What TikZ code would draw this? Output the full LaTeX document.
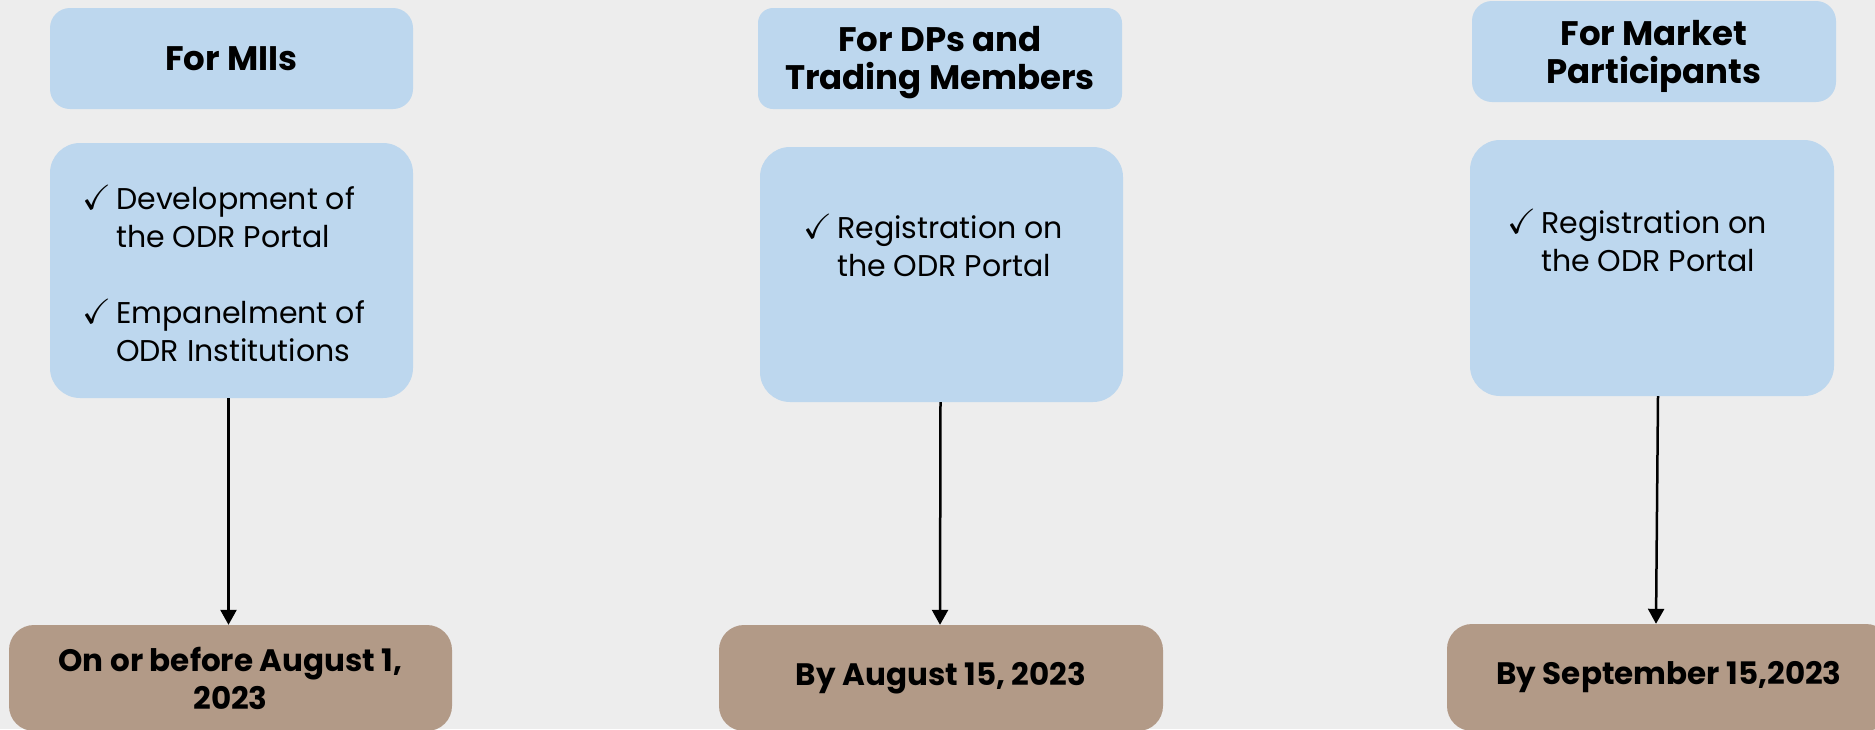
\documentclass[tikz,border=0pt]{standalone}
\usepackage{amssymb}
\usepackage{fontspec}
\setmainfont{Poppins}
\usetikzlibrary{positioning, arrows.meta}
\definecolor{oblue}{RGB}{189,215,238}
\definecolor{obrown}{RGB}{178,154,135}
\definecolor{ogrey}{RGB}{237,237,237}
\newcommand{\odrtick}{\makebox[34pt][l]{\fontsize{35}{38}\selectfont$\checkmark$}}

\begin{document}
\begin{tikzpicture}[x=1pt, y=-1pt,
    headbox/.style={fill=oblue, rounded corners=20pt, inner sep=0pt, align=center,
        font=\bfseries\fontsize{34}{38}\selectfont},
    taskbox/.style={fill=oblue, rounded corners=30pt, inner sep=0pt},
    datebox/.style={fill=obrown, rounded corners=25pt, inner sep=0pt, align=center,
        font=\bfseries\fontsize{31}{38}\selectfont},
    tasktext/.style={anchor=base west, inner sep=0pt, font=\fontsize{30}{38}\selectfont},
    arr/.style={line width=2.5pt, -{Triangle[width=16pt, length=15pt]}}]

        % page
        \useasboundingbox (0,0) rectangle (1875,729);
        \fill[ogrey] (0,0) rectangle (1875,729);
        \clip (0,0) rectangle (1875,729);

        % MIIs
        \node[headbox, minimum width=363pt, minimum height=101pt] (mii) at (231.5,58.5) {For MIIs};
        \node[taskbox, minimum width=363pt, minimum height=255pt] (miitasks) at (231.5,270.5) {};
        \node[tasktext] (miilist) at (82,209) {\begin{tabular}[t]{@{}l@{}l@{}}
            \odrtick & Development of\\
                     & the ODR Portal\\[38pt]
            \odrtick & Empanelment of\\
                     & ODR Institutions
            \end{tabular}};
        \node[datebox, minimum width=443pt, minimum height=106pt] (miidate) at (230.5,678) {On or before August 1,\\2023};

        % DPs and trading members
        \fill[oblue, rounded corners=15pt] (758,8) rectangle (1122,109);
        \node[headbox, fill=none] (dp) at (940,63) {For DPs and\\Trading Members};
        \node[taskbox, minimum width=363pt, minimum height=255pt] (dptasks) at (941.5,274.5) {};
        \node[tasktext] (dplist) at (803,238) {\begin{tabular}[t]{@{}l@{}l@{}}
            \odrtick & Registration on\\
                     & the ODR Portal
            \end{tabular}};
        \node[datebox, minimum width=444pt, minimum height=106pt] (dpdate) at (941,678) {By August 15, 2023};

        % market participants
        \fill[oblue, rounded corners=20pt] (1472,1) rectangle (1836,102);
        \node[headbox, fill=none] (mp) at (1654,56) {For Market\\Participants};
        \node[taskbox, minimum width=364pt, minimum height=256pt] (mptasks) at (1652,268) {};
        \node[tasktext] (mplist) at (1507,233) {\begin{tabular}[t]{@{}l@{}l@{}}
            \odrtick & Registration on\\
                     & the ODR Portal
            \end{tabular}};
        \node[datebox, minimum width=444pt, minimum height=107pt] (mpdate) at (1669,677.5) {By September 15,2023};

        % arrows
        \draw[arr] ([xshift=-3pt]miitasks.south) -- ([xshift=-2pt]miidate.north);
        \draw[arr] ([xshift=-1pt]dptasks.south) -- ([xshift=-1pt]dpdate.north);
        \draw[arr] ([xshift=6pt]mptasks.south) -- ([xshift=-13pt]mpdate.north);
\end{tikzpicture}
\end{document}
